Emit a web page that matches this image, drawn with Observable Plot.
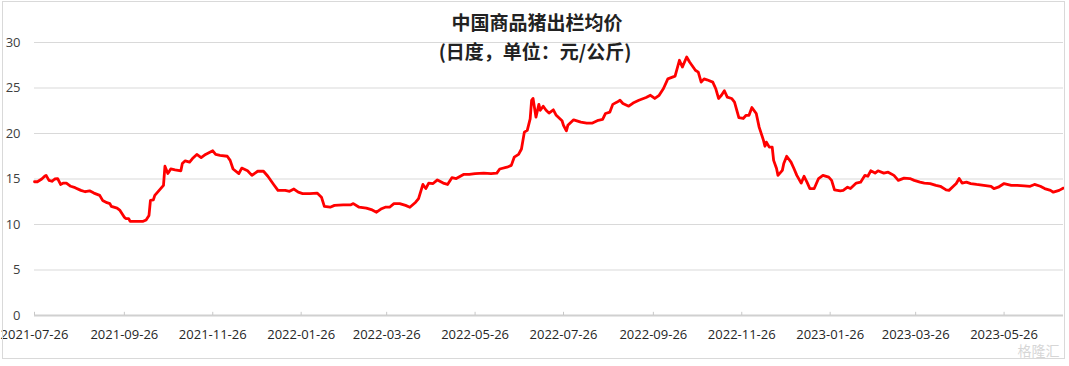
<!DOCTYPE html>
<html>
<head>
<meta charset="utf-8">
<script src="https://cdn.jsdelivr.net/npm/d3@7"></script>
<script src="https://cdn.jsdelivr.net/npm/@observablehq/plot@0.6"></script>
<style>
  html, body { margin: 0; padding: 0; background: #ffffff; }
  #wrap { position: relative; width: 1069px; height: 366px; }
  #border { position: absolute; left: 2px; top: 1px; width: 1061px; height: 356px; border: 1px solid #d9d9d9; pointer-events: none; }
</style>
</head>
<body>
<div id="wrap"><div id="chart"></div><div id="border"></div></div>
<script>
const titleLines = ["中国商品猪出栏均价", "(日度，单位：元/公斤)"];
const watermark = ["格隆汇"];

const xTicks = ["2021-07-26","2021-09-26","2021-11-26","2022-01-26","2022-03-26","2022-05-26",
                "2022-07-26","2022-09-26","2022-11-26","2023-01-26","2023-03-26","2023-05-26"];
const yTicks = [0, 5, 10, 15, 20, 25, 30];

const dates = [
"2021-07-26","2021-07-28","2021-07-31","2021-08-02","2021-08-03","2021-08-05","2021-08-07","2021-08-09","2021-08-11","2021-08-13",
"2021-08-15","2021-08-17","2021-08-20","2021-08-23","2021-08-27","2021-08-30","2021-09-02","2021-09-05","2021-09-09","2021-09-11",
"2021-09-14","2021-09-16","2021-09-17","2021-09-21","2021-09-23","2021-09-26","2021-09-27","2021-09-29","2021-09-30","2021-10-04",
"2021-10-09","2021-10-11","2021-10-13","2021-10-14","2021-10-16","2021-10-17","2021-10-20","2021-10-23","2021-10-24","2021-10-26",
"2021-10-28","2021-10-31","2021-11-04","2021-11-05","2021-11-07","2021-11-10","2021-11-12","2021-11-15","2021-11-18","2021-11-21",
"2021-11-26","2021-11-28","2021-12-01","2021-12-06","2021-12-08","2021-12-10","2021-12-14","2021-12-16","2021-12-20","2021-12-23",
"2021-12-27","2021-12-31","2022-01-03","2022-01-07","2022-01-10","2022-01-15","2022-01-18","2022-01-21","2022-01-24","2022-01-27",
"2022-02-01","2022-02-06","2022-02-09","2022-02-11","2022-02-15","2022-02-18","2022-02-24","2022-03-01","2022-03-03","2022-03-07",
"2022-03-12","2022-03-16","2022-03-19","2022-03-22","2022-03-25","2022-03-28","2022-03-31","2022-04-04","2022-04-08","2022-04-11",
"2022-04-15","2022-04-17","2022-04-20","2022-04-22","2022-04-24","2022-04-27","2022-04-30","2022-05-04","2022-05-07","2022-05-10",
"2022-05-13","2022-05-18","2022-05-22","2022-05-26","2022-06-01","2022-06-06","2022-06-10","2022-06-12","2022-06-17","2022-06-20",
"2022-06-22","2022-06-25","2022-06-27","2022-06-29","2022-07-01","2022-07-03","2022-07-04","2022-07-05","2022-07-07","2022-07-09",
"2022-07-10","2022-07-12","2022-07-14","2022-07-16","2022-07-19","2022-07-21","2022-07-25","2022-07-26","2022-07-28","2022-07-29",
"2022-08-02","2022-08-07","2022-08-11","2022-08-15","2022-08-19","2022-08-22","2022-08-24","2022-08-27","2022-08-29","2022-09-01",
"2022-09-03","2022-09-05","2022-09-09","2022-09-12","2022-09-16","2022-09-21","2022-09-24","2022-09-27","2022-09-30","2022-10-03",
"2022-10-06","2022-10-11","2022-10-14","2022-10-16","2022-10-19","2022-10-21","2022-10-25","2022-10-27","2022-10-29","2022-10-31",
"2022-11-02","2022-11-06","2022-11-08","2022-11-10","2022-11-12","2022-11-14","2022-11-16","2022-11-19","2022-11-21","2022-11-24",
"2022-11-27","2022-11-29","2022-12-01","2022-12-03","2022-12-06","2022-12-08","2022-12-11","2022-12-12","2022-12-13","2022-12-15",
"2022-12-17","2022-12-18","2022-12-20","2022-12-21","2022-12-24","2022-12-25","2022-12-27","2022-12-30","2023-01-01","2023-01-03",
"2023-01-06","2023-01-08","2023-01-10","2023-01-12","2023-01-15","2023-01-18","2023-01-21","2023-01-25","2023-01-27","2023-01-29",
"2023-02-02","2023-02-04","2023-02-07","2023-02-09","2023-02-13","2023-02-16","2023-02-19","2023-02-21","2023-02-23","2023-02-26",
"2023-02-28","2023-03-04","2023-03-07","2023-03-11","2023-03-14","2023-03-18","2023-03-22","2023-03-25","2023-03-29","2023-04-01",
"2023-04-05","2023-04-09","2023-04-12","2023-04-16","2023-04-18","2023-04-21","2023-04-23","2023-04-25","2023-04-27","2023-04-30",
"2023-05-03","2023-05-07","2023-05-12","2023-05-17","2023-05-19","2023-05-22","2023-05-26","2023-05-31","2023-06-04","2023-06-09",
"2023-06-13","2023-06-16","2023-06-20","2023-06-23","2023-06-27","2023-06-29","2023-07-03","2023-07-06"
];

const prices = [
14.7,14.7,15.0,15.3,15.4,14.85,14.75,15.0,15.05,14.4,
14.55,14.55,14.2,14.05,13.75,13.6,13.7,13.45,13.2,12.65,
12.4,12.3,12.0,11.8,11.55,10.8,10.65,10.65,10.35,10.35,
10.35,10.5,11.0,12.65,12.7,13.2,13.75,14.3,16.4,15.6,
16.1,16.0,15.9,16.7,17.0,16.85,17.25,17.7,17.35,17.7,
18.1,17.7,17.6,17.5,17.05,16.1,15.6,16.2,15.9,15.4,
15.85,15.85,15.3,14.4,13.75,13.75,13.65,13.9,13.55,13.4,
13.4,13.45,13.0,12.0,11.9,12.1,12.15,12.15,12.3,11.9,
11.8,11.6,11.35,11.7,11.9,11.9,12.3,12.3,12.1,11.9,
12.45,12.85,14.4,13.95,14.55,14.5,14.9,14.55,14.4,15.15,
15.05,15.5,15.5,15.6,15.65,15.6,15.65,16.1,16.3,16.5,
17.4,17.7,18.3,20.15,20.35,21.6,23.65,23.85,21.8,23.2,
22.55,23.0,22.55,22.25,22.6,22.0,21.4,20.9,20.3,20.9,
21.5,21.25,21.15,21.15,21.45,21.55,22.2,22.35,23.2,23.45,
23.65,23.3,23.0,23.35,23.65,23.95,24.2,23.85,24.2,24.95,
26.0,26.3,28.05,27.3,28.4,27.85,26.95,26.75,25.65,26.0,
25.9,25.65,24.95,23.85,24.2,24.7,24.0,23.85,23.45,21.75,
21.65,22.0,22.0,22.85,22.2,20.7,19.25,18.6,19.05,18.5,
18.5,17.05,16.15,15.4,15.95,16.7,17.5,16.85,16.15,15.4,
14.55,15.3,14.65,13.95,13.95,15.05,15.4,15.2,14.85,13.8,
13.7,13.75,14.1,13.95,14.55,14.65,15.4,15.3,15.9,15.65,
15.9,15.65,15.75,15.4,14.85,15.1,15.05,14.85,14.65,14.55,
14.5,14.3,14.2,13.8,13.75,14.2,14.5,15.05,14.55,14.65,
14.5,14.4,14.3,14.2,13.95,14.1,14.5,14.3,14.3,14.25,
14.2,14.4,14.2,13.95,13.75,13.55,13.75,14.0
];

const data = dates.map((d, i) => ({date: new Date(d), price: prices[i]}));
const tickDates = xTicks.map(d => new Date(d));
const fmt = d3.utcFormat("%Y-%m-%d");

const chart = Plot.plot({
  width: 1069,
  height: 366,
  marginTop: 42,
  marginRight: 6,
  marginBottom: 51,
  marginLeft: 34,
  style: {fontFamily: "'Open Sans', 'Noto Sans', sans-serif", fontSize: "13px", color: "#404040", background: "transparent"},
  x: {type: "utc", domain: [new Date("2021-07-26"), new Date("2023-07-06")]},
  y: {domain: [0, 30]},
  marks: [
    Plot.gridY(yTicks, {stroke: "#d9d9d9", strokeOpacity: 1}),
    Plot.axisY(yTicks, {tickSize: 0, tickPadding: 14, label: null, fill: "#404040"}),
    Plot.axisX(tickDates, {tickSize: 0, tickPadding: 14, tickFormat: fmt, label: null, fill: "#262626"}),
    Plot.ruleY([0], {stroke: "#d0d0d0", strokeWidth: 2}),
    Plot.ruleX(tickDates, {y1: 0, y2: 0.35, stroke: "#c8c8c8", strokeWidth: 1}),
    Plot.lineY(data, {x: "date", y: "price", stroke: "#ff0000", strokeWidth: 2.8, curve: "linear"}),
    Plot.text([titleLines[0]], {frameAnchor: "top", lineAnchor: "middle", dy: -19, dx: -12, fontSize: 19, fontWeight: "bold", fill: "#222", fontFamily: "'Noto Sans CJK SC', sans-serif"}),
    Plot.text([titleLines[1]], {frameAnchor: "top", lineAnchor: "middle", dy: 10, dx: -14, fontSize: 19, fontWeight: "bold", fill: "#222", fontFamily: "'Noto Sans CJK SC', sans-serif"}),
    Plot.text(watermark, {frameAnchor: "bottom-right", lineAnchor: "middle", dy: 36, dx: -4, textAnchor: "end", fontSize: 14, fill: "#d6d6d6", fontFamily: "'Noto Sans CJK SC', sans-serif"})
  ]
});
document.getElementById("chart").appendChild(chart);
</script>
</body>
</html>
